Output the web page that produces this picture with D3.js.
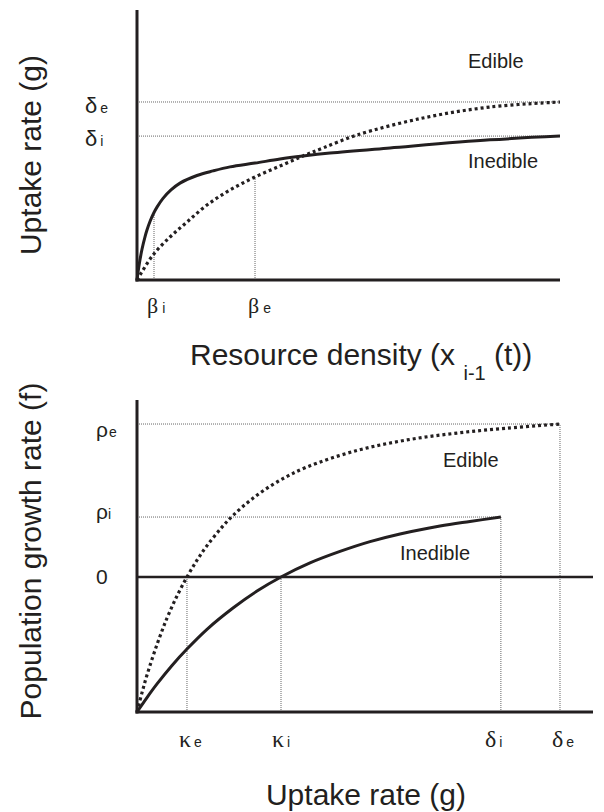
<!DOCTYPE html>
<html><head><meta charset="utf-8">
<script src="https://cdn.jsdelivr.net/npm/d3@7"></script>
<style>body{margin:0;background:#fff}svg{display:block}text{font-family:"Liberation Sans",Arial,sans-serif;fill:#231f20}</style>
</head><body>
<script>
// ---- Top panel: uptake rate g vs resource density ----
const topInedibleX = [0, 0.47, 1.18, 1.89, 2.36, 3.07, 4.02, 4.73, 6.15, 8.04, 10.17, 14.18, 17.97, 21.99, 27.9, 33.81, 39.24, 45.63, 59.81, 83.45, 100];
const topInedibleY = [0, 5.3, 11.37, 16, 18.52, 21.67, 25, 27, 30.22, 33.37, 35.89, 38.7, 40.4, 41.9, 43.3, 44.8, 45.9, 47, 48.9, 51.9, 53.3];
const topEdibleX = [0, 0.71, 3.78, 7.8, 11.82, 16.55, 21.99, 27.9, 33.81, 39.24, 43.97, 52.01, 67.61, 83.45, 100];
const topEdibleY = [0, 1.85, 9.26, 15.93, 21.48, 27.78, 33.33, 38.15, 42.22, 45.93, 48.89, 53.7, 60, 64.07, 65.93];
const topYTicks = [{sym:"δ", sub:"e", v:65.93}, {sym:"δ", sub:"i", v:53.3}];
const topXTicks = [{sym:"β", sub:"i", v:4.02, top:25}, {sym:"β", sub:"e", v:27.9, top:38.15}];

// ---- Bottom panel: population growth rate f vs uptake rate ----
const botEdibleX = [0, 1.1, 2.19, 4.39, 6.58, 8.77, 10.96, 13.16, 15.35, 18.64, 21.05, 25.22, 30.7, 37.28, 48.25, 59.21, 70.18, 81.14, 92.76];
const botEdibleY = [-88.24, -75.6, -64.1, -44.1, -26.9, -12.4, 0, 10.98, 20.5, 32.6, 40.2, 51, 62.1, 71.9, 82.7, 89.6, 94.1, 97.3, 100];
const botInedibleX = [0, 2.19, 4.39, 7.68, 10.96, 15.35, 21.05, 26.32, 31.58, 37.94, 44.52, 51.1, 57.68, 66.45, 73.03, 79.8];
const botInedibleY = [-88.24, -78.8, -69.9, -57.8, -47.1, -34.2, -20.3, -9.2, 0, 9.2, 16.7, 23.1, 28.1, 33.3, 36.3, 39.2];
const botXTicks = [{sym:"κ", sub:"e", v:10.96, top:0}, {sym:"κ", sub:"i", v:31.58, top:0},
                   {sym:"δ", sub:"i", v:79.8, top:39.2}, {sym:"δ", sub:"e", v:92.76, top:100}];
const botYTicks = [{sym:"ρ", sub:"e", v:100, xEnd:92.76}, {sym:"ρ", sub:"i", v:39.2, xEnd:79.8}];

const ink = "#231f20";
const svg = d3.select("body").append("svg").attr("width", 604).attr("height", 812);

// scales
const xT = d3.scaleLinear().domain([0, 100]).range([137, 560]);
const yT = d3.scaleLinear().domain([0, 100]).range([280, 10]);
const xB = d3.scaleLinear().domain([0, 100]).range([137, 593]);
const yB = d3.scaleLinear().domain([-88.24, 115.7]).range([712, 400]);

function refLine(g, x1, y1, x2, y2) {
  g.append("line").attr("x1", x1).attr("y1", y1).attr("x2", x2).attr("y2", y2)
    .attr("stroke", "#555").attr("stroke-width", 0.9).attr("stroke-dasharray", "1,1");
}
function curve(g, xs, ys, xs_, ys_, dotted) {
  const pts = xs.map((x, i) => [x, ys[i]]);
  const line = d3.line().x(d => xs_(d[0])).y(d => ys_(d[1])).curve(d3.curveCatmullRom.alpha(0.5));
  g.append("path").attr("d", line(pts)).attr("fill", "none").attr("stroke", ink)
    .attr("stroke-width", dotted ? 3.2 : 3)
    .attr("stroke-dasharray", dotted ? "3,3" : null);
}
function label(g, x, y, sym, sub, size, subSize, serif, gap) {
  const t = g.append("text").attr("x", x).attr("y", y)
    .style("font-family", serif ? "'Liberation Serif','Times New Roman',serif" : null)
    .style("font-size", size + "px").text(sym);
  t.append("tspan").attr("dx", gap).style("font-family", "'Liberation Sans',Arial,sans-serif")
    .style("font-size", subSize + "px").text(sub);
}

// ===== Top panel =====
const gT = svg.append("g");
topYTicks.forEach(t => refLine(gT, xT(0), yT(t.v), xT(100), yT(t.v)));
topXTicks.forEach(t => refLine(gT, xT(t.v), yT(0), xT(t.v), yT(t.top)));
curve(gT, topEdibleX, topEdibleY, xT, yT, true);
curve(gT, topInedibleX, topInedibleY, xT, yT, false);
// axes
const axT = d3.axisLeft(yT).tickValues([]).tickSize(0);
gT.append("g").attr("transform", `translate(${xT(0)},0)`).call(axT)
  .call(g => g.select(".domain").attr("stroke", ink).attr("stroke-width", 3).attr("d", `M0,${yT(0)+1.5}V${yT(100)}`));
const axTx = d3.axisBottom(xT).tickValues([]).tickSize(0);
gT.append("g").attr("transform", `translate(0,${yT(0)})`).call(axTx)
  .call(g => g.select(".domain").attr("stroke", ink).attr("stroke-width", 3).attr("d", `M${xT(0)-1.5},0H${xT(100)}`));
// tick labels
label(gT, 85, yT(topYTicks[0].v) + 11, "δ", "e", 22, 14, false, 3);
label(gT, 85, yT(topYTicks[1].v) + 10, "δ", "i", 22, 14, false, 3);
topXTicks.forEach(t => label(gT, xT(t.v) - 7, 313, t.sym, t.sub, 22, 14, true, 4));
gT.append("text").attr("x", 468).attr("y", 68).style("font-size", "20px").text("Edible");
gT.append("text").attr("x", 468).attr("y", 168).style("font-size", "20px").text("Inedible");
// titles
gT.append("text").attr("transform", "translate(41,155) rotate(-90)").attr("text-anchor", "middle")
  .style("font-size", "30px").text("Uptake rate (g)");
const tx = gT.append("text").attr("x", 190).attr("y", 365).style("font-size", "30px").text("Resource density (x ");
tx.append("tspan").attr("dy", 15).style("font-size", "20px").text("i-1");
tx.append("tspan").attr("dy", -15).text(" (t))");

// ===== Bottom panel =====
const gB = svg.append("g");
botYTicks.forEach(t => refLine(gB, xB(0), yB(t.v), xB(t.xEnd), yB(t.v)));
botXTicks.forEach(t => refLine(gB, xB(t.v), yB(-88.24), xB(t.v), yB(t.top)));
curve(gB, botEdibleX, botEdibleY, xB, yB, true);
curve(gB, botInedibleX, botInedibleY, xB, yB, false);
// zero line
gB.append("line").attr("x1", xB(0)).attr("x2", xB(100)).attr("y1", yB(0)).attr("y2", yB(0))
  .attr("stroke", ink).attr("stroke-width", 2.5);
const axB = d3.axisLeft(yB).tickValues([]).tickSize(0);
gB.append("g").attr("transform", `translate(${xB(0)},0)`).call(axB)
  .call(g => g.select(".domain").attr("stroke", ink).attr("stroke-width", 3).attr("d", `M0,${yB(-88.24)+1.5}V${yB(115.7)}`));
const axBx = d3.axisBottom(xB).tickValues([]).tickSize(0);
gB.append("g").attr("transform", `translate(0,${yB(-88.24)})`).call(axBx)
  .call(g => g.select(".domain").attr("stroke", ink).attr("stroke-width", 3).attr("d", `M${xB(0)-1.5},0H${xB(100)}`));
// tick labels
label(gB, 96, yB(100) + 13, "ρ", "e", 21, 14, false, 1);
label(gB, 96, yB(39.2) + 2, "ρ", "i", 21, 14, false, 0);
gB.append("text").attr("x", 96).attr("y", yB(0) + 7).style("font-size", "21px").text("0");
const xOff = {"κe": -8, "κi": -9, "δi": -16, "δe": -8};
botXTicks.forEach(t => label(gB, xB(t.v) + xOff[t.sym + t.sub], 747, t.sym, t.sub, 24, 14, true, 3));
gB.append("text").attr("x", 443).attr("y", 467).style("font-size", "20px").text("Edible");
gB.append("text").attr("x", 400).attr("y", 560).style("font-size", "20px").text("Inedible");
gB.append("text").attr("transform", "translate(41,551) rotate(-90)").attr("text-anchor", "middle")
  .style("font-size", "30px").text("Population growth rate (f)");
gB.append("text").attr("x", 366).attr("y", 805).attr("text-anchor", "middle")
  .style("font-size", "30px").text("Uptake rate (g)");
</script>
</body></html>
